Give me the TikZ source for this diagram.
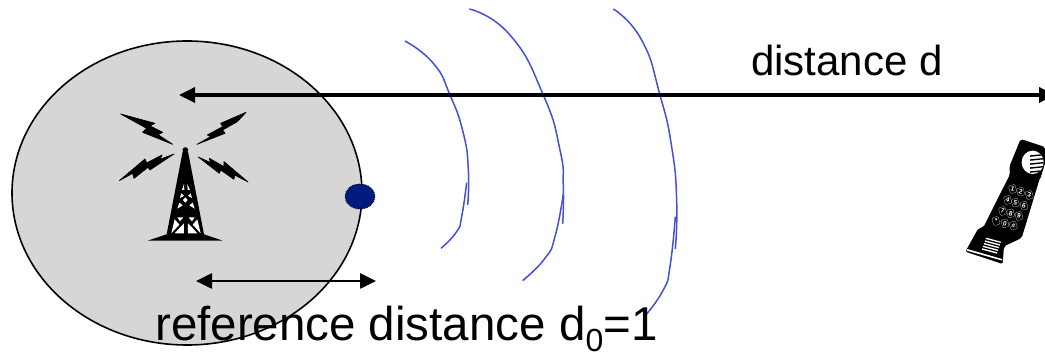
\documentclass[tikz,border=0pt]{standalone}
\usepackage{fontspec}
\setmainfont{Liberation Sans}
\usetikzlibrary{arrows.meta,shapes.geometric}
\tikzset{
  x=1pt,y=-1pt,
  wave/.style={draw=waveblue,line width=1.5pt,line cap=butt},
  bigarrow/.style={draw=black,line width=3.4pt,{Triangle[length=16pt,width=15pt]}-{Triangle[length=16pt,width=15pt]}},
  smallarrow/.style={draw=black,line width=2.6pt,{Triangle[length=16pt,width=15pt]}-{Triangle[length=16pt,width=15pt]}},
  key/.style={inner sep=0pt,text=white,font=\fontsize{6.5pt}{7pt}\selectfont\bfseries,rotate=-15},
  keybox/.style={draw=keygray,line width=.3pt,rounded corners=1.2pt},
  boltshape/.style={fill=black,draw=black,line width=.7pt,line join=round},
}
\definecolor{waveblue}{HTML}{4350D8}
\definecolor{zonegray}{HTML}{D6D6D6}
\definecolor{dotblue}{HTML}{001A80}
\definecolor{keygray}{HTML}{BBBBBB}
\begin{document}
\begin{tikzpicture}
\useasboundingbox (0,0) rectangle (1045,355);
\node[draw=black,line width=1.6pt,fill=zonegray,ellipse,minimum width=350pt,minimum height=304pt,inner sep=0pt] (zone) at (187,193) {};
% tower and bolts
\begin{scope}[xshift=100pt,yshift=-90pt,x=.3333pt,y=-.3333pt]
 \path[boltshape] (62,72)--(165,100)--(150,108)--(188,127)--(174,134)--(218,163)--(128,127)--(140,115)--cycle;
 \path[boltshape] (438,67)--(362,100)--(368,110)--(322,135)--(332,140)--(291,163)--(375,130)--(368,120)--(412,95)--cycle;
 \path[boltshape] (58,272)--(135,207)--(140,219)--(186,195)--(180,208)--(222,192)--(150,240)--(144,232)--(102,265)--(98,250)--cycle;
 \path[boltshape] (444,276)--(372,215)--(372,230)--(328,205)--(332,218)--(295,201)--(358,250)--(362,240)--(402,268)--(404,255)--cycle;
 \fill (256,180) circle (2.8pt);
 \fill (143,452)--(200,433)--(248,185)--(264,185)--(312,433)--(368,452)--cycle;
 \fill[white] (252,282)--(246,300)--(253,300)--cycle (262,282)--(270,300)--(263,300)--cycle;
 \fill[white] (244,310)--(240,324)--(252,318)--cycle (272,310)--(276,324)--(264,318)--cycle (256,322)--(249,330)--(256,338)--(263,330)--cycle;
 \fill[white] (238,338)--(232,356)--(248,346)--cycle (278,338)--(284,356)--(268,346)--cycle;
 \fill[white] (232,382)--(250,382)--(240,394)--cycle (284,382)--(266,382)--(276,394)--cycle;
 \fill[white] (224,388)--(238,404)--(214,430)--cycle (292,388)--(278,404)--(302,430)--cycle;
 \fill[white] (242,410)--(252,400)--(252,430)--(224,430)--cycle (274,410)--(264,400)--(264,430)--(292,430)--cycle;
\end{scope}
% phone
\begin{scope}[xshift=960pt,yshift=-135pt,x=.3333pt,y=-.3333pt]
 \fill[rounded corners=2pt] (182,12)--(255,36)--(258,75)--(243,125)--(240,128)--(185,309)--(132,334)--(128,387)--(16,350)--(55,280)--(70,277)--(150,118)--(148,95)--cycle;
 \fill[white] (22,342)--(126,372)--(127,377)--(20,347)--cycle;
 \fill[white] (218,82) ellipse [x radius=11pt, y radius=11.7pt];
 \begin{scope}
  \clip (218,82) ellipse [x radius=11pt, y radius=11.7pt];
  \foreach \yy in {60,72,84,96,108}
   \fill (210,\yy+1)--(262,\yy-4)--(262,\yy)--(210,\yy+5.5)--cycle;
 \end{scope}
 \foreach \xx/\yy/\kk in {158/162/1,182/170/2,208/180/3,143/195/4,166/203/5,192/212/6,128/228/7,152/235/8,177/243/9,108/258/*,135/265/0,160/272/\#}{
  \draw[keybox,rotate around={15:(\xx,\yy)}] (\xx-10,\yy-12) rectangle (\xx+10,\yy+12);
  \node[key] at (\xx,\yy) {\kk};
 }
 \foreach \dd in {0,8,16,24,32}
  \fill[white] (78-\dd*.35,308+\dd)--(123-\dd*.35,320+\dd)--(122-\dd*.35,324+\dd)--(77-\dd*.35,312+\dd)--cycle;
\end{scope}
% reference point
\node[ellipse,fill=dotblue,draw=black,densely dotted,line width=.8pt,minimum width=30pt,minimum height=25pt,inner sep=0pt] (dot) at (360,196.5) {};
% waves
\begin{scope}[xshift=400pt,x=.3333pt,y=-.3333pt]
 \draw[wave] plot[smooth,tension=.9] coordinates {(15,123) (100,190) (150,285) (190,400) (205,510) (203,615)};
 \draw[wave] plot[smooth,tension=.9] coordinates {(200,548) (185,650) (170,695) (123,745)};
 \draw[wave] plot[smooth,tension=.9] coordinates {(208,27) (330,105) (430,285) (480,450) (490,560) (488,672)};
 \draw[wave] plot[smooth,tension=.9] coordinates {(490,582) (465,710) (435,775) (368,842)};
 \draw[wave] plot[smooth,tension=.9] coordinates {(640,27) (725,120) (780,285) (815,440) (830,600) (826,747)};
 \draw[wave] plot[smooth,tension=.9] coordinates {(826,650) (810,800) (790,870) (735,948)};
\end{scope}
% dimensions
\coordinate (dA) at (179,95);
\coordinate (dB) at (1055,95);
\coordinate (rA) at (196,281);
\coordinate (rB) at (376,281);
\draw[bigarrow] (dA) -- (dB);
\draw[smallarrow] (rA) -- (rB);
\node[inner sep=0pt,anchor=base west,font=\fontsize{42pt}{48pt}\selectfont] (dlabel) at (751,76) {distance d};
\node[inner sep=0pt,anchor=base west,font=\fontsize{47.5pt}{54pt}\selectfont] (rlabel) at (155,341) {reference distance d\raisebox{-11pt}{\fontsize{32pt}{36pt}\selectfont 0}=1};
\end{tikzpicture}
\end{document}
